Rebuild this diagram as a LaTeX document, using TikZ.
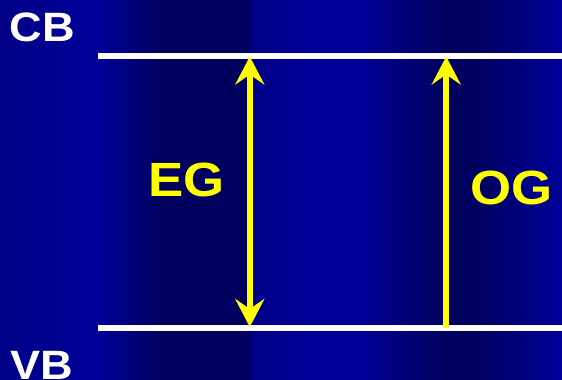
\documentclass[tikz,border=0pt]{standalone}
\usepackage{fontspec}
\setmainfont{Liberation Sans}
\usepackage{graphicx}
\usetikzlibrary{arrows.meta}
\definecolor{bgdark}{HTML}{00005E}
\definecolor{bgmid}{HTML}{000086}
\definecolor{bgbright}{HTML}{000099}
\definecolor{gapyellow}{HTML}{FFFF00}
\newcommand{\widetext}[1]{\scalebox{1.1}[1]{#1}}
\tikzset{
  band/.style    = {draw=white, line width=5.5pt},
  bandlab/.style = {text=white, inner sep=0pt,
                    font=\fontsize{41}{44}\selectfont\bfseries},
  gaplab/.style  = {text=gapyellow, inner sep=0pt,
                    font=\fontsize{48}{52}\selectfont\bfseries},
  gaparr/.style  = {-{Stealth[length=28pt,width=29pt,inset=10pt]},
                    draw=gapyellow, line width=6pt},
  dgaparr/.style = {{Stealth[length=28pt,width=29pt,inset=10pt]}-{Stealth[length=28pt,width=29pt,inset=10pt]},
                    draw=gapyellow, line width=6pt},
}

\begin{document}
\begin{tikzpicture}[x=1pt, y=-1pt]

  \useasboundingbox (0,0) rectangle (562,380);

  % ----- background stripes -----
  \foreach \xa/\xb/\ca/\cb in {0/97/bgmid/bgbright, 97/161/bgbright/bgdark,
      161/248/bgdark/bgdark, 248/252/bgdark/bgmid, 252/305/bgmid/bgbright,
      305/358/bgbright/bgbright, 358/444/bgbright/bgdark,
      444/473/bgdark/bgdark, 473/562/bgdark/bgbright}
    \shade[left color=\ca, right color=\cb] (\xa,0) rectangle (\xb+0.5,380);

  % ----- bands -----
  \coordinate (cbleft)  at (98,55.8);
  \coordinate (cbright) at (562,55.8);
  \coordinate (vbleft)  at (98,328);
  \coordinate (vbright) at (562,328);

  \draw[band] (cbleft) -- (cbright);
  \draw[band] (vbleft) -- (vbright);

  \node[bandlab] (cb) at (42.5,27.2) {\widetext{CB}};
  \node[bandlab] (vb) at (41.7,365.4) {\widetext{VB}};

  % ----- gaps -----
  \coordinate (egtop) at (249.8,56.5);
  \coordinate (egbot) at (249.8,327);
  \coordinate (ogtop) at (446.2,56.5);
  \coordinate (ogbot) at (446.2,328);

  \draw[dgaparr] (egbot) -- (egtop);
  \draw[gaparr] (ogbot) -- (ogtop);

  \node[gaplab] (eg) at (186.7,179.7) {\widetext{EG}};
  \node[gaplab] (og) at (511.4,187.5) {\widetext{OG}};

\end{tikzpicture}
\end{document}
